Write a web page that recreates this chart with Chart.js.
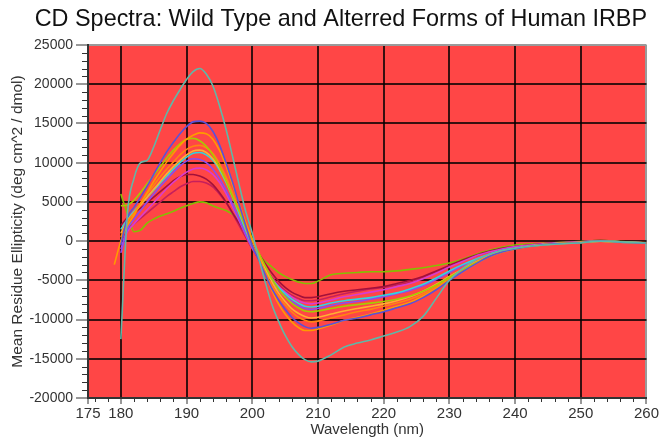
<!DOCTYPE html>
<html>
<head>
<meta charset="utf-8">
<title>CD Spectra</title>
<script src="https://cdn.jsdelivr.net/npm/chart.js@4.4.1/dist/chart.umd.min.js"></script>
<style>
  html, body { margin: 0; padding: 0; background: #ffffff; }
  canvas { display: block; }
</style>
</head>
<body>
<canvas id="cd" width="660" height="439"></canvas>
<script>
// Wavelength grid (nm) shared by every spectrum
const wavelength = [179,180,181,182,183,184,185,186,187,188,189,190,191,192,193,194,195,196,197,198,199,200,201,202,203,204,205,206,207,208,209,210,212,214,216,218,220,222,224,226,228,230,232,234,236,238,240,243,246,250,253,256,260];

// Mean residue ellipticity (deg cm^2 / dmol) for each IRBP form
const tealSeries = [null,-12500,3500,8000,10000,10300,12000,14200,16300,17900,19300,20600,21600,22000,21300,19800,17300,14300,10800,7200,3800,1000,-2200,-5300,-8100,-10200,-12000,-13400,-14400,-15100,-15400,-15300,-14500,-13500,-13000,-12600,-12100,-11600,-10900,-9600,-7300,-5000,-3500,-2400,-1700,-1200,-900,-600,-400,-200,0,-100,-250];
const blueSeries = [null,-500,3000,4300,5600,7000,8500,10000,11400,12600,13700,14600,15200,15300,15000,14000,12300,10000,7500,4700,2000,-600,-2400,-4300,-6100,-7500,-8700,-9700,-10400,-10900,-11100,-11000,-10600,-10100,-9800,-9400,-9000,-8500,-8000,-7200,-6200,-5000,-3900,-2900,-2000,-1400,-1000,-600,-350,-200,50,-150,-250];
const orangeSeries = [-3000,0,2000,3300,4800,6200,7600,8900,10100,11200,12200,13000,13500,13800,13700,13000,11600,9600,7200,4800,2400,300,-1900,-4200,-6300,-8000,-9300,-10300,-11000,-11400,-11400,-11200,-10700,-10100,-9700,-9300,-8800,-8300,-7800,-7000,-6000,-4900,-3900,-2900,-2000,-1400,-1000,-600,-350,-200,0,-150,-250];
const limeSeries = [null,4500,4600,5200,6200,7300,8400,9500,10600,11600,12400,13000,13100,12800,12100,11000,9500,7700,5700,3800,1900,200,-1500,-3200,-4800,-6100,-7100,-7900,-8500,-8900,-9000,-8900,-8600,-8300,-8100,-7900,-7700,-7400,-7000,-6400,-5600,-4600,-3700,-2800,-2000,-1400,-1000,-600,-350,-200,50,-100,-250];
const darkOrangeSeries = [null,500,2500,3600,4800,6000,7100,8200,9200,10100,11000,11700,12100,12200,11900,11200,9900,8200,6200,4000,1700,-500,-2200,-4000,-5700,-7000,-8100,-9000,-9700,-10100,-10300,-10200,-9800,-9400,-9000,-8700,-8300,-7900,-7400,-6700,-5800,-4700,-3700,-2800,-2000,-1400,-1000,-600,-350,-150,0,-150,-200];
const amberSeries = [null,1000,2600,3600,4600,5600,6600,7600,8600,9500,10300,11000,11500,11600,11300,10500,9300,7700,5800,3900,2000,100,-1700,-3600,-5200,-6600,-7700,-8600,-9200,-9600,-9800,-9700,-9300,-8900,-8600,-8300,-8000,-7600,-7100,-6400,-5500,-4500,-3600,-2700,-1900,-1300,-950,-550,-300,-150,0,-150,-250];
const cyanSeries = [null,1500,2800,3800,4700,5600,6500,7400,8300,9200,10000,10700,11200,11300,11000,10300,9100,7500,5600,3500,1400,-600,-2000,-3500,-4800,-5900,-6700,-7400,-7900,-8300,-8400,-8300,-7900,-7600,-7400,-7200,-6900,-6600,-6100,-5500,-4700,-3800,-3000,-2300,-1700,-1200,-900,-550,-300,-150,50,-100,-200];
const violetSeries = [null,-1500,1500,2800,3900,5000,6000,7000,7900,8800,9600,10200,10500,10400,10000,9200,8000,6500,4700,2800,900,-800,-2200,-3700,-5100,-6200,-7000,-7700,-8200,-8600,-8700,-8600,-8200,-7900,-7700,-7400,-7100,-6700,-6300,-5700,-4900,-4000,-3100,-2300,-1700,-1200,-900,-550,-300,-150,0,-150,-250];
const magentaSeries = [null,-1000,1200,2200,3100,4000,4900,5800,6700,7500,8200,8800,9200,9300,9100,8500,7500,6100,4400,2600,800,-900,-2200,-3600,-4800,-5800,-6500,-7100,-7600,-7900,-8000,-7900,-7500,-7100,-6800,-6500,-6200,-5800,-5400,-4800,-4100,-3300,-2600,-1900,-1400,-1000,-700,-450,-250,-100,50,-100,-200];
const maroonSeries = [null,2000,3000,3600,4200,4900,5600,6300,7000,7700,8200,8500,8500,8300,7900,7200,6200,5000,3600,2300,900,-400,-1600,-2900,-4100,-5100,-5900,-6500,-6900,-7200,-7200,-7100,-6700,-6400,-6200,-6000,-5800,-5400,-5000,-4500,-3800,-3100,-2400,-1800,-1300,-900,-700,-450,-250,-100,100,-100,-200];
const crimsonSeries = [null,0,1500,2200,2900,3600,4300,5000,5700,6300,6900,7300,7600,7600,7400,6900,6000,4900,3500,2000,500,-1000,-2300,-3500,-4600,-5500,-6300,-6900,-7300,-7600,-7600,-7500,-7100,-6700,-6400,-6100,-5900,-5600,-5200,-4600,-3900,-3200,-2500,-1900,-1400,-1000,-700,-450,-250,-100,0,-100,-200];
const greenSeries = [null,6000,3500,1200,1400,2300,2800,3200,3500,3800,4200,4500,4800,5000,4900,4500,4200,3900,3400,2700,1500,200,-1700,-2600,-3300,-4000,-4500,-4900,-5200,-5400,-5400,-5100,-4300,-4100,-4000,-3900,-3900,-3800,-3600,-3400,-3100,-2800,-2300,-1700,-1200,-800,-500,-350,-200,-50,100,-50,-200];

// Axis tick values
const xTickValues = [175,180,190,200,210,220,230,240,250,260];
const yTickValues = [-20000,-15000,-10000,-5000,0,5000,10000,15000,20000,25000];

const spectra = [
  { data: tealSeries,       color: '#5fb8a8' },
  { data: blueSeries,       color: '#5a52d8' },
  { data: orangeSeries,     color: '#ff9a00' },
  { data: limeSeries,       color: '#a6cc00' },
  { data: darkOrangeSeries, color: '#ff8412' },
  { data: amberSeries,      color: '#ffb030' },
  { data: cyanSeries,       color: '#30d6e0' },
  { data: violetSeries,     color: '#8a4cf0' },
  { data: magentaSeries,    color: '#d83cd0' },
  { data: maroonSeries,     color: '#a3103a' },
  { data: crimsonSeries,    color: '#c61f5c' },
  { data: greenSeries,      color: '#86c000' }
];

Chart.defaults.font.family = '"Liberation Sans", Arial, Helvetica, sans-serif';

// Red plot area behind the grid
const plotBackground = {
  id: 'plotBackground',
  beforeDraw(chart) {
    const { ctx, chartArea: a } = chart;
    ctx.save();
    ctx.fillStyle = '#ffffff';
    ctx.fillRect(0, 0, chart.width, chart.height);
    ctx.fillStyle = '#ff4646';
    ctx.fillRect(a.left, a.top, a.right - a.left, a.bottom - a.top);
    ctx.restore();
  }
};

// Short minor tick marks outside the plot area
const minorTicks = {
  id: 'minorTicks',
  afterDraw(chart) {
    const { ctx, chartArea: a, scales: { x, y } } = chart;
    ctx.save();
    ctx.strokeStyle = '#333333';
    ctx.lineWidth = 1;
    ctx.beginPath();
    for (let v = y.min; v <= y.max; v += 1000) {
      if (v % 5000 === 0) continue;
      const py = Math.round(y.getPixelForValue(v)) + 0.5;
      ctx.moveTo(a.left - 6, py);
      ctx.lineTo(a.left, py);
    }
    for (let v = 176; v < x.max; v += 2) {
      if (v % 10 === 0) continue;
      const px = Math.round(x.getPixelForValue(v)) + 0.5;
      ctx.moveTo(px, a.bottom);
      ctx.lineTo(px, a.bottom + 4);
    }
    ctx.stroke();
    ctx.restore();
  }
};

new Chart(document.getElementById('cd'), {
  type: 'line',
  data: {
    labels: wavelength,
    datasets: spectra.map(s => ({
      data: wavelength.map((w, i) => ({ x: w, y: s.data[i] })),
      borderColor: s.color,
      backgroundColor: s.color,
      borderWidth: 1.6,
      pointRadius: 0,
      fill: false,
      cubicInterpolationMode: 'monotone'
    }))
  },
  options: {
    responsive: false,
    animation: false,
    devicePixelRatio: 1,
    layout: { padding: { left: 0, right: 13, top: 0, bottom: 0 } },
    plugins: {
      legend: { display: false },
      tooltip: { enabled: false },
      title: {
        display: true,
        text: 'CD Spectra: Wild Type and Alterred Forms of Human IRBP',
        align: 'end',
        color: '#111111',
        font: { size: 23.4, weight: 'normal' },
        padding: { top: 6, bottom: 10.92 }
      }
    },
    scales: {
      x: {
        type: 'linear',
        min: 175,
        max: 260,
        afterBuildTicks: s => { s.ticks = xTickValues.map(v => ({ value: v })); },
        afterFit: s => { s.height = 41; },
        ticks: {
          color: '#333333', font: { size: 15 }, padding: 1, autoSkip: false, maxRotation: 0,
          callback: v => String(v)
        },
        grid: {
          color: c => (c.tick && c.tick.value === 260) ? '#9a9a9a' : 'rgba(0,0,0,0.78)',
          lineWidth: 2,
          tickLength: 6,
          tickColor: '#333333',
          tickWidth: 1
        },
        border: { color: '#333333', width: 2 },
        title: {
          display: true,
          text: 'Wavelength (nm)',
          color: '#333333',
          font: { size: 15 },
          padding: { top: 0, bottom: 0 }
        }
      },
      y: {
        min: -20000,
        max: 25000,
        afterBuildTicks: s => { s.ticks = yTickValues.map(v => ({ value: v })); },
        afterFit: s => { s.width = 88; },
        ticks: { color: '#333333', font: { size: 14 }, padding: 3, callback: v => String(v) },
        grid: {
          color: c => (c.tick && c.tick.value === 25000) ? '#9a9a9a' : 'rgba(0,0,0,0.78)',
          lineWidth: 2,
          tickLength: 12,
          tickColor: '#333333',
          tickWidth: 1
        },
        border: { color: '#333333', width: 2 },
        title: {
          display: true,
          text: 'Mean Residue Ellipticity (deg cm^2 / dmol)',
          color: '#333333',
          font: { size: 15.5 },
          padding: { top: 8, bottom: 0 }
        }
      }
    }
  },
  plugins: [plotBackground, minorTicks]
});
</script>
</body>
</html>
